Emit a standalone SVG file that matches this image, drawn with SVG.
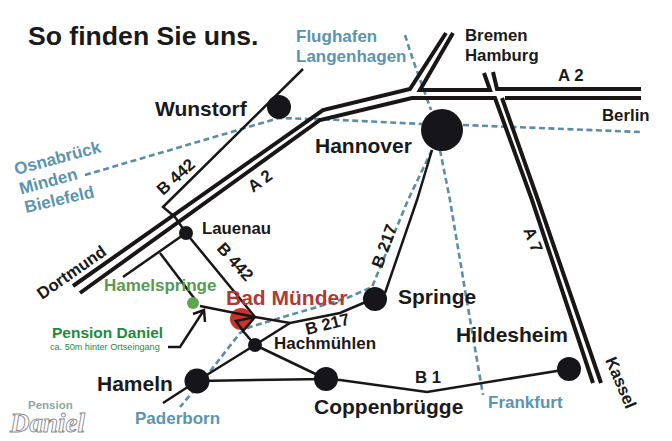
<svg xmlns="http://www.w3.org/2000/svg" width="672" height="441" viewBox="0 0 672 441">
<style>
text{font-family:"Liberation Sans",Arial,sans-serif;fill:#1a1a1a}
.b{font-weight:bold}
.city{font-weight:bold;font-size:21px}
.road{font-size:16.8px;font-weight:bold}
.blue{fill:#5b95ad;font-weight:bold;font-size:17px}
.n{fill:#16161a}
.a{fill:none;stroke:#1a1616;stroke-width:4;stroke-linejoin:miter}
.s{fill:none;stroke:#1a1616;stroke-width:2.5;stroke-linejoin:miter}
.d{fill:none;stroke:#5b8ea5;stroke-width:2.6;stroke-dasharray:6 3.5}
</style>
<rect width="672" height="441" fill="#fff"/>
<g id="connectors">
<circle cx="241" cy="319" r="11" fill="#c8352c"/>
<g id="blue-routes">
<path class="d" d="M85 175L279 118L340 120L422 124"/>
<path class="d" d="M463 125L641 132"/>
<path class="d" d="M405 35L412 57L431 110"/>
<path class="d" d="M432 150L408 200L372 287L347 298L250 327L240 333L208 374L180 407"/>
<path class="d" d="M440 150L450 200L465 290L483 395"/>
</g>
<g id="motorways">
<path class="a" d="M73 286L323 110L410 89L446 33"/>
<path class="a" d="M80 293L320 120L412 98H495L532 200L593 383"/>
<path class="a" d="M453 33L420 90H490L484 73"/>
<path class="a" d="M493 72L497 89H641"/>
<path class="a" d="M505 98H641"/>
<path class="a" d="M502 98L538 200L601 383"/>
</g>
<g id="roads">
<path class="s" d="M303 69L163 207L175 217L186 233L255 317"/>
<path class="s" d="M123 277L186 233"/>
<path class="s" d="M160 253L197 302"/>
<path class="s" d="M200 306L255 317L290 323L340 313L375 298"/>
<path class="s" d="M290 323L255 345"/>
<path class="s" d="M255 317L236 321L243 331L255 317M243 331L255 345"/>
<path class="s" d="M255 345L197 381L163 403"/>
<path class="s" d="M255 345L326 379"/>
<path class="s" d="M197 381L326 379"/>
<path class="s" d="M385 293L417 200L432 150"/>
<path class="s" d="M326 379L340 380L427 392L569 369"/>
<path class="s" d="M168 347H180L204 310M193 314L204 310L205 322"/>
</g>
</g>
<text id="title" class="b" x="28" y="45" font-size="26.6">So finden Sie uns.</text>
<g id="wunstorf"><circle class="n" cx="279" cy="107" r="12"/><text class="city" x="155" y="116">Wunstorf</text></g>
<g id="hannover"><circle class="n" cx="442" cy="130" r="21"/><text class="city" x="315" y="153">Hannover</text></g>
<g id="lauenau"><circle class="n" cx="186" cy="233" r="7"/><text class="b" font-size="16.8" x="202" y="234">Lauenau</text></g>
<g id="hamelspringe"><circle cx="193" cy="303" r="6" fill="#5fa550"/><text class="b" font-size="17" x="104" y="291" style="fill:#5a9a50">Hamelspringe</text></g>
<g id="bad-muender"><text class="b" font-size="21" x="226" y="305" style="fill:#b03a35">Bad Münder</text></g>
<g id="pension-daniel"><text class="b" font-size="15.5" x="52" y="338" style="fill:#1f8a3a">Pension Daniel</text><text font-size="9.1" x="50" y="350" style="fill:#1f8a3a">ca. 50m hinter Ortseingang</text></g>
<g id="hachmuehlen"><circle class="n" cx="255" cy="345" r="7"/><text class="b" font-size="17" x="274" y="349">Hachmühlen</text></g>
<g id="springe"><circle class="n" cx="375" cy="299" r="12"/><text class="city" x="398" y="304">Springe</text></g>
<g id="hameln"><circle class="n" cx="197" cy="381" r="12.5"/><text class="city" x="97" y="391">Hameln</text></g>
<g id="coppenbruegge"><circle class="n" cx="326" cy="379" r="12"/><text class="city" x="314" y="414">Coppenbrügge</text></g>
<g id="hildesheim"><circle class="n" cx="569" cy="369" r="12"/><text class="city" x="456" y="342">Hildesheim</text></g>
<g id="labels">
<text class="blue" x="296" y="42">Flughafen</text>
<text class="blue" x="296" y="62">Langenhagen</text>
<text class="road" x="465" y="41">Bremen</text>
<text class="road" x="465" y="61">Hamburg</text>
<text class="road" x="558" y="81">A 2</text>
<text class="road" x="602" y="121">Berlin</text>
<text class="blue" transform="translate(16 175) rotate(-15)">Osnabrück</text>
<text class="blue" transform="translate(21 194.500) rotate(-15)">Minden</text>
<text class="blue" transform="translate(26 213) rotate(-13)">Bielefeld</text>
<text class="road" transform="translate(163 196) rotate(-42)">B 442</text>
<text class="road" transform="translate(253 193) rotate(-36)">A 2</text>
<text class="road" transform="translate(216 249) rotate(48)">B 442</text>
<text class="road" transform="translate(42 300) rotate(-35)">Dortmund</text>
<text class="road" transform="translate(307 335) rotate(-14)">B 217</text>
<text class="road" transform="translate(382 269) rotate(-70)">B 217</text>
<text class="road" transform="translate(523 230) rotate(68)">A 7</text>
<text class="road" transform="translate(605 360) rotate(67)">Kassel</text>
<text class="road" x="415" y="383">B 1</text>
<text class="blue" x="488" y="408">Frankfurt</text>
<text class="blue" x="135" y="424">Paderborn</text>
</g>
<g id="logo">
<text class="b" font-size="11.500" x="28" y="409" style="fill:#8aa89c">Pension</text>
<text font-size="27" x="10" y="432" style="font-family:'Liberation Serif',serif;font-style:italic;font-weight:bold;fill:#fff;stroke:#8a8a8a;stroke-width:.9">Daniel</text>
</g>
</svg>
